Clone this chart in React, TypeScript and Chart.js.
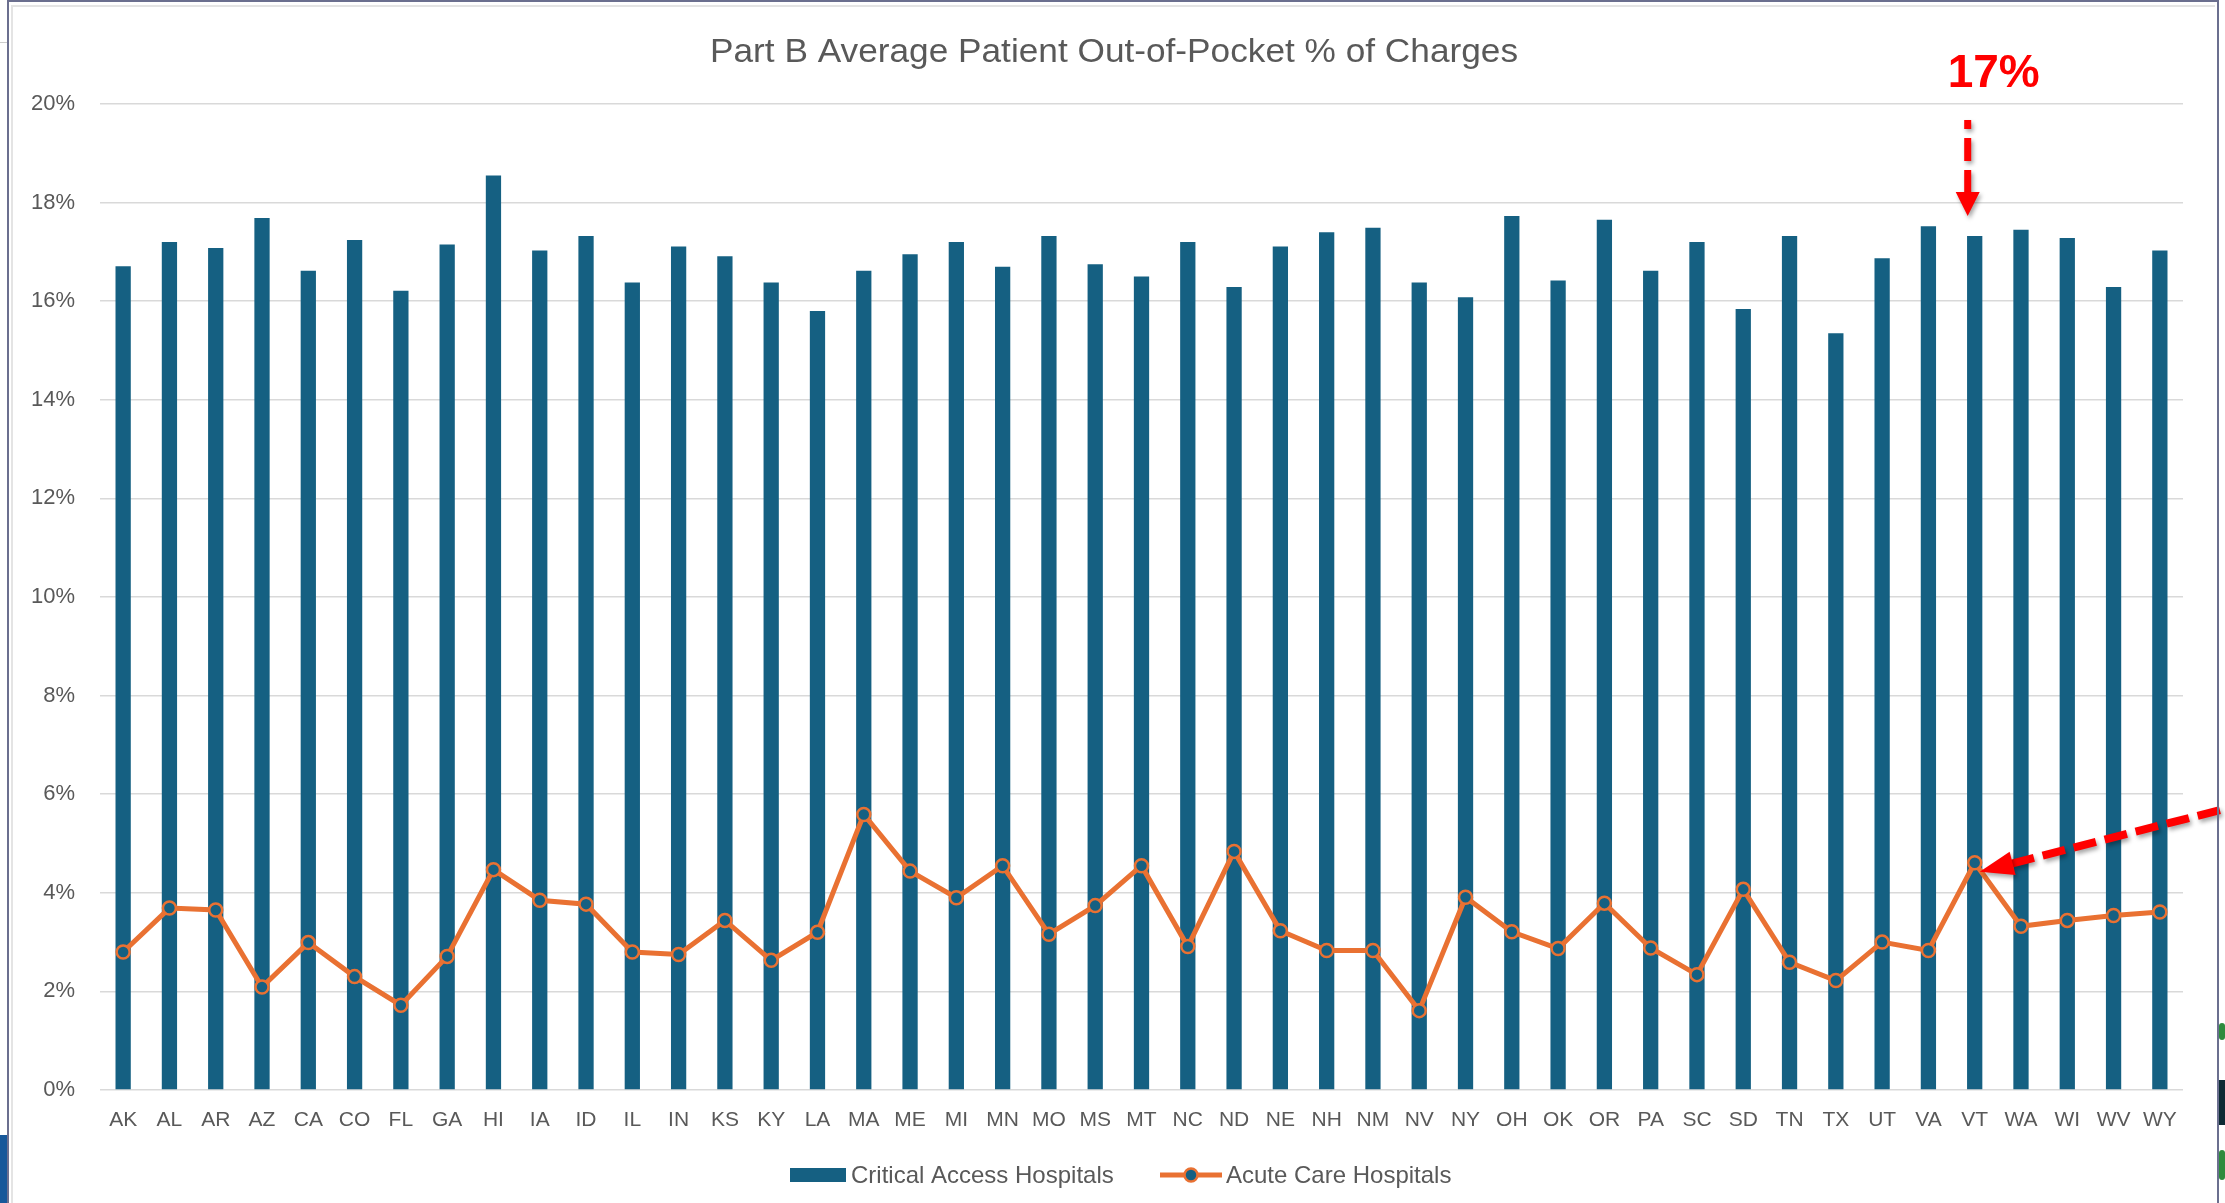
import React, { useEffect, useRef } from 'react';
import { Chart, registerables } from 'chart.js';

Chart.register(...registerables);

// ---------- DATA ----------
const states = [
  'AK', 'AL', 'AR', 'AZ', 'CA', 'CO', 'FL', 'GA', 'HI', 'IA', 'ID', 'IL', 'IN', 'KS', 'KY',
  'LA', 'MA', 'ME', 'MI', 'MN', 'MO', 'MS', 'MT', 'NC', 'ND', 'NE', 'NH', 'NM', 'NV', 'NY',
  'OH', 'OK', 'OR', 'PA', 'SC', 'SD', 'TN', 'TX', 'UT', 'VA', 'VT', 'WA', 'WI', 'WV', 'WY',
];

// Critical Access Hospitals (% of charges)
const criticalAccess = [
  16.71, 17.2, 17.08, 17.69, 16.62, 17.24, 16.21, 17.15, 18.55, 17.03, 17.32, 16.38, 17.11, 16.91, 16.38,
  15.8, 16.62, 16.95, 17.2, 16.7, 17.32, 16.75, 16.5, 17.2, 16.29, 17.11, 17.4, 17.49, 16.38, 16.08,
  17.73, 16.42, 17.65, 16.62, 17.2, 15.84, 17.32, 15.35, 16.87, 17.52, 17.32, 17.45, 17.28, 16.29, 17.03,
];

// Acute Care Hospitals (% of charges)
const acuteCare = [
  2.8, 3.69, 3.65, 2.09, 2.99, 2.3, 1.72, 2.71, 4.47, 3.85, 3.77, 2.8, 2.75, 3.44, 2.63,
  3.2, 5.59, 4.44, 3.9, 4.55, 3.16, 3.74, 4.55, 2.91, 4.84, 3.23, 2.83, 2.83, 1.61, 3.91,
  3.21, 2.87, 3.79, 2.88, 2.34, 4.07, 2.59, 2.22, 3.0, 2.83, 4.61, 3.32, 3.44, 3.54, 3.61,
];

const seriesNames = ['Critical Access Hospitals', 'Acute Care Hospitals'];
const chartTitle = 'Part B Average Patient Out-of-Pocket % of Charges';
const yMin = 0;
const yMax = 20;
const yStep = 2;
const calloutState = 'VT';
const calloutText = '17%';

// ---------- STYLE ----------
const W = 2225;
const H = 1203;
const BAR = '#156082';
const ORANGE = '#E97132';
const TEXT = '#595959';
const GRID = '#D9D9D9';
const RED = '#FF0000';
const FONT = '"Liberation Sans", Arial, sans-serif';

function dashedArrow(
  ctx: CanvasRenderingContext2D,
  tipX: number,
  tipY: number,
  fromX: number,
  fromY: number,
  headLen: number,
  headW: number,
  lw: number,
) {
  const dx = fromX - tipX;
  const dy = fromY - tipY;
  const len = Math.hypot(dx, dy);
  const ux = dx / len;
  const uy = dy / len;
  const bx = tipX + ux * headLen;
  const by = tipY + uy * headLen;
  ctx.save();
  ctx.shadowColor = 'rgba(0,0,0,0.35)';
  ctx.shadowBlur = 4;
  ctx.shadowOffsetX = 2;
  ctx.shadowOffsetY = 3;
  ctx.strokeStyle = RED;
  ctx.fillStyle = RED;
  ctx.lineWidth = lw;
  ctx.setLineDash([23, 9]);
  ctx.beginPath();
  ctx.moveTo(bx - ux * 1, by - uy * 1);
  ctx.lineTo(fromX, fromY);
  ctx.stroke();
  ctx.setLineDash([]);
  ctx.beginPath();
  ctx.moveTo(tipX, tipY);
  ctx.lineTo(bx - uy * headW / 2, by + ux * headW / 2);
  ctx.lineTo(bx + uy * headW / 2, by - ux * headW / 2);
  ctx.closePath();
  ctx.fill();
  ctx.restore();
}

const overlayPlugin = {
  id: 'overlayPlugin',
  afterDraw(chart: any) {
    const ctx: CanvasRenderingContext2D = chart.ctx;
    const xs = chart.scales.x;
    const ys = chart.scales.y;
    ctx.save();

    // Title
    ctx.font = `34px ${FONT}`;
    ctx.fillStyle = TEXT;
    ctx.textBaseline = 'alphabetic';
    ctx.textAlign = 'left';
    const tw = ctx.measureText(chartTitle).width;
    const targetW = 808;
    ctx.save();
    ctx.translate(1114 - targetW / 2, 62);
    ctx.scale(targetW / tw, 1);
    ctx.fillText(chartTitle, 0, 0);
    ctx.restore();

    // Legend
    const ly = 1175;
    ctx.fillStyle = BAR;
    ctx.fillRect(790, ly - 7, 56, 14);
    ctx.font = `24px ${FONT}`;
    ctx.fillStyle = TEXT;
    ctx.textBaseline = 'middle';
    ctx.fillText(seriesNames[0], 851, ly + 1);
    ctx.strokeStyle = ORANGE;
    ctx.lineWidth = 5;
    ctx.beginPath();
    ctx.moveTo(1160, ly);
    ctx.lineTo(1222, ly);
    ctx.stroke();
    ctx.beginPath();
    ctx.arc(1191, ly, 6.5, 0, Math.PI * 2);
    ctx.fillStyle = BAR;
    ctx.fill();
    ctx.lineWidth = 2.5;
    ctx.stroke();
    ctx.fillStyle = TEXT;
    ctx.fillText(seriesNames[1], 1226, ly + 1);

    // Callout
    const idx = states.indexOf(calloutState);
    const cx = xs.getPixelForValue(idx);
    const barTop = ys.getPixelForValue(criticalAccess[idx]);
    const lineY = ys.getPixelForValue(acuteCare[idx]);

    ctx.font = `bold 46px ${FONT}`;
    ctx.fillStyle = RED;
    ctx.textAlign = 'center';
    ctx.textBaseline = 'alphabetic';
    ctx.fillText(calloutText, cx + 19, 87);

    // vertical arrow
    dashedArrow(ctx, cx - 7, barTop - 20, cx - 7, 120, 24, 24, 7);
    // diagonal arrow towards the acute care point
    const tipX = cx + 5;
    const tipY = lineY + 9;
    dashedArrow(ctx, tipX, tipY, tipX + 300, tipY - 77, 34, 24, 8);

    ctx.restore();
  },
};

export default function App() {
  const canvasRef = useRef<HTMLCanvasElement | null>(null);

  useEffect(() => {
    const canvas = canvasRef.current;
    if (!canvas) return;
    const chart = new Chart(canvas, {
      type: 'bar',
      data: {
        labels: states,
        datasets: [
          {
            type: 'line',
            label: seriesNames[1],
            data: acuteCare,
            borderColor: ORANGE,
            borderWidth: 5,
            backgroundColor: ORANGE,
            pointRadius: 6.5,
            pointBorderWidth: 2.5,
            pointBackgroundColor: BAR,
            pointBorderColor: ORANGE,
            tension: 0,
            order: 0,
          } as any,
          {
            type: 'bar',
            label: seriesNames[0],
            data: criticalAccess,
            backgroundColor: BAR,
            borderWidth: 0,
            barPercentage: 0.33,
            categoryPercentage: 1,
            order: 1,
          } as any,
        ],
      },
      options: {
        responsive: false,
        maintainAspectRatio: false,
        animation: false,
        devicePixelRatio: 1,
        layout: { padding: { left: 0, right: 42, top: 104, bottom: 0 } },
        plugins: {
          legend: { display: false },
          title: { display: false },
          tooltip: { enabled: false },
        },
        scales: {
          x: {
            grid: { display: false, drawTicks: false },
            border: { display: false },
            ticks: {
              color: TEXT,
              font: { family: FONT, size: 21 },
              padding: 18,
              maxRotation: 0,
              autoSkip: false,
            },
            afterFit: (s: any) => {
              s.height = 113;
            },
          },
          y: {
            min: yMin,
            max: yMax,
            grid: { color: GRID, lineWidth: 1.5, drawTicks: false },
            border: { display: false },
            ticks: {
              stepSize: yStep,
              color: TEXT,
              font: { family: FONT, size: 22 },
              padding: 25,
              callback: (v: any) => `${v}%`,
            },
            afterFit: (s: any) => {
              s.width = 100;
            },
          },
        },
      },
      plugins: [overlayPlugin],
    });
    return () => chart.destroy();
  }, []);

  return (
    <div style={{ position: 'fixed', left: 0, top: 0, width: W, height: H, background: '#fff', overflow: 'hidden' }}>
      <canvas ref={canvasRef} width={W} height={H} style={{ position: 'absolute', left: 0, top: 0, width: W, height: H }} />
      {/* frame */}
      <div style={{ position: 'absolute', left: 7, top: 0, width: 2212, height: 2, background: '#6B6F8F' }} />
      <div style={{ position: 'absolute', left: 7, top: 0, width: 2, height: H, background: '#6B6F8F' }} />
      <div style={{ position: 'absolute', left: 2217, top: 0, width: 2, height: H, background: '#6B6F8F' }} />
      <div style={{ position: 'absolute', left: 11, top: 5, width: 2204, height: 2, background: '#E4E4E4' }} />
      <div style={{ position: 'absolute', left: 11, top: 5, width: 2, height: H, background: '#E4E4E4' }} />
      <div style={{ position: 'absolute', left: 0, top: 42, width: 7, height: 1, background: '#CCCCCC' }} />
      <div style={{ position: 'absolute', left: 0, top: 1135, width: 7, height: 68, background: '#17589A' }} />
      <div style={{ position: 'absolute', left: 2219, top: 1080, width: 6, height: 45, background: '#0E2B35' }} />
      <div style={{ position: 'absolute', left: 2219, top: 1023, width: 6, height: 17, background: '#2E8B3E', borderRadius: 3 }} />
      <div style={{ position: 'absolute', left: 2219, top: 1150, width: 6, height: 30, background: '#2E8B3E', borderRadius: 3 }} />
    </div>
  );
}
